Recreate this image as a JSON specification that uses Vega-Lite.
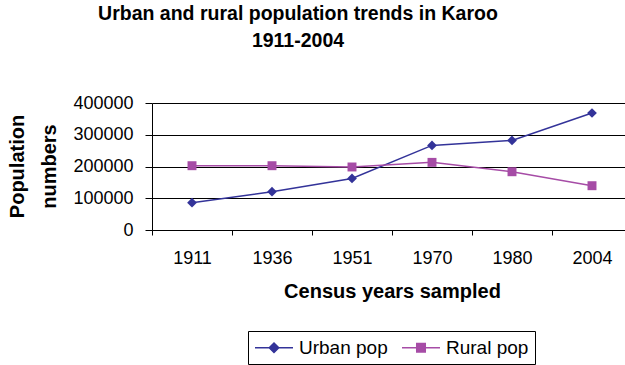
{
  "$schema": "https://vega.github.io/schema/vega-lite/v6.json",
  "width": 480,
  "height": 127,
  "autosize": {"type": "none"},
  "padding": {"left": 152, "top": 103, "right": 0, "bottom": 135},
  "background": "white",
  "config": {"font": "Liberation Sans", "view": {"stroke": null}},
  "title": {
    "text": ["Urban and rural population trends in Karoo", "1911-2004"],
    "fontSize": 19.5,
    "fontWeight": "bold",
    "font": "Liberation Sans",
    "color": "#000000",
    "anchor": "start",
    "align": "center",
    "frame": "group",
    "dx": 146,
    "dy": -33,
    "lineHeight": 27,
    "baseline": "top",
    "offset": 10
  },
  "data": {
    "values": [
      {"year": "1911", "series": "Urban pop", "pop": 86000},
      {"year": "1936", "series": "Urban pop", "pop": 120500},
      {"year": "1951", "series": "Urban pop", "pop": 162500},
      {"year": "1970", "series": "Urban pop", "pop": 266500},
      {"year": "1980", "series": "Urban pop", "pop": 282000},
      {"year": "2004", "series": "Urban pop", "pop": 368500},
      {"year": "1911", "series": "Rural pop", "pop": 202500},
      {"year": "1936", "series": "Rural pop", "pop": 202500},
      {"year": "1951", "series": "Rural pop", "pop": 198500},
      {"year": "1970", "series": "Rural pop", "pop": 213000},
      {"year": "1980", "series": "Rural pop", "pop": 183500},
      {"year": "2004", "series": "Rural pop", "pop": 139500}
    ]
  },
  "encoding": {
    "x": {
      "field": "year",
      "type": "ordinal",
      "bandPosition": 0.5,
      "scale": {"type": "band", "paddingInner": 0, "paddingOuter": 0},
      "axis": {
        "title": "Census years sampled",
        "titleFontSize": 20,
        "titleFontWeight": "bold",
        "titleColor": "#000000",
        "titleBaseline": "top",
        "titleY": 51,
        "labelFontSize": 18,
        "labelColor": "#000000",
        "labelAngle": 0,
        "labelPadding": 14,
        "tickBand": "extent",
        "tickSize": 5,
        "tickColor": "#000000",
        "domainColor": "#000000",
        "grid": false
      }
    },
    "y": {
      "field": "pop",
      "type": "quantitative",
      "scale": {"domain": [0, 400000]},
      "axis": {
        "title": ["Population", "numbers"],
        "titleFontSize": 20,
        "titleFontWeight": "bold",
        "titleColor": "#000000",
        "titleAngle": 270,
        "titleBaseline": "alphabetic",
        "titleAlign": "center",
        "titleX": -129,
        "titleY": 63,
        "titleLineHeight": 32,
        "values": [0, 100000, 200000, 300000, 400000],
        "format": "d",
        "labelFontSize": 18,
        "labelColor": "#000000",
        "labelPadding": 12,
        "tickSize": 7,
        "tickColor": "#000000",
        "domainColor": "#000000",
        "grid": true,
        "gridColor": "#000000",
        "gridWidth": 1
      }
    },
    "color": {
      "field": "series",
      "type": "nominal",
      "scale": {"domain": ["Urban pop", "Rural pop"], "range": ["#333399", "#A64CA6"]},
      "legend": {
        "title": null,
        "orient": "none",
        "legendX": 96,
        "legendY": 228,
        "direction": "horizontal",
        "labelFontSize": 19,
        "labelColor": "#000000",
        "labelFont": "Liberation Sans",
        "strokeColor": "#000000",
        "fillColor": "#ffffff",
        "padding": 6,
        "columnPadding": 11,
        "labelOffset": 24,
        "symbolSize": 361,
        "symbolStrokeWidth": 1.5,
        "encode": {
          "symbols": {
            "update": {
              "shape": {"signal": "datum.value === 'Urban pop' ? 'M-1,0L0.5,0L1,-0.5L1.5,0L3,0L1.5,0L1,0.5L0.5,0Z' : 'M-1,0L0.55,0L0.55,-0.45L1.45,-0.45L1.45,0L3,0L1.45,0L1.45,0.45L0.55,0.45L0.55,0Z'"},
              "fill": {"signal": "datum.value === 'Urban pop' ? '#333399' : '#A64CA6'"},
              "stroke": {"signal": "datum.value === 'Urban pop' ? '#333399' : '#A64CA6'"},
              "strokeWidth": {"value": 1.5},
              "opacity": {"value": 1},
              "fillOpacity": {"value": 1}
            }
          }
        }
      }
    }
  },
  "layer": [
    {"mark": {"type": "line", "strokeWidth": 1.5}},
    {
      "transform": [{"filter": "datum.series === 'Urban pop'"}],
      "mark": {"type": "point", "filled": true, "opacity": 1, "size": 95, "shape": "diamond"}
    },
    {
      "transform": [{"filter": "datum.series === 'Rural pop'"}],
      "mark": {"type": "point", "filled": true, "opacity": 1, "size": 80, "shape": "square"}
    }
  ]
}
